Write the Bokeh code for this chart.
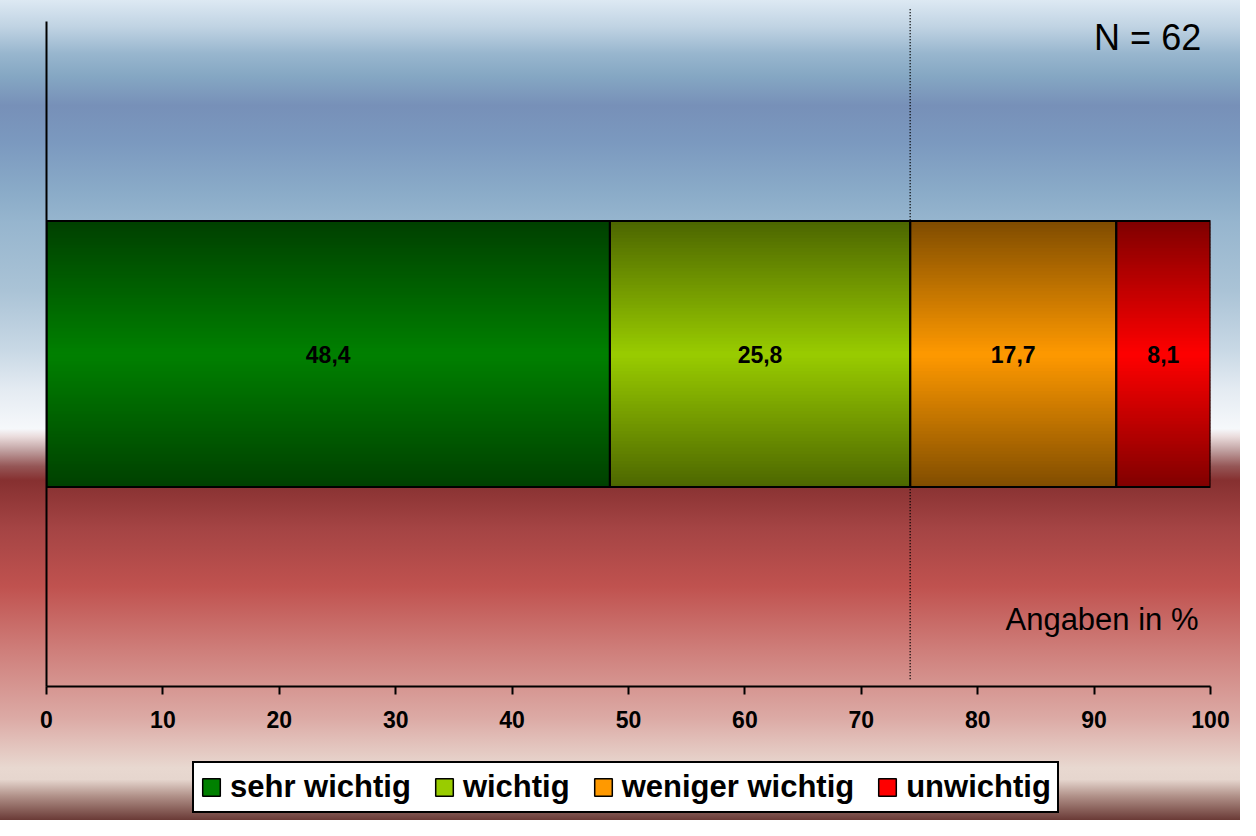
import numpy as np
from bokeh.plotting import figure
from bokeh.layouts import column
from bokeh.models import (Range1d, LinearAxis, FixedTicker, Legend,
                          LegendItem, Label, ColumnDataSource)
from bokeh.core.properties import value
from bokeh.embed import file_html
from bokeh.resources import INLINE

# ---------------- data ----------------
categories = ["sehr wichtig", "wichtig", "weniger wichtig", "unwichtig"]
values = [48.4, 25.8, 17.7, 8.1]
x_ticks = [0, 10, 20, 30, 40, 50, 60, 70, 80, 90, 100]
n_text = "N = 62"
unit_text = "Angaben in %"
marker_after = 2          # dotted reference line after the first two categories

# ---------------- style ----------------
mid_colors = ["#008000", "#99cc00", "#ff9900", "#ff0000"]
FONT = "Liberation Sans"
W, H = 1240, 820
H_MAIN = 750
H_LEG = H - H_MAIN
FL, FR, FT = 46, 30, 0
frame_h = 686
FB = H_MAIN - frame_h
BAR_Y, BAR_H = 1.0, 0.8
px_per_y = 332.5
y_top = frame_h / px_per_y

# background gradient stops (reference pixel row -> colour)
bg_stops = [(6, "#dde9f3"), (33, "#c0d3e3"), (60, "#98b6ce"), (83, "#85a7c3"),
            (113, "#7790b8"), (150, "#7b99bf"), (200, "#8aabc8"), (230, "#96b5ce"),
            (300, "#aac3d6"), (360, "#c8d8e5"), (400, "#e4ebf2"), (440, "#f6f8fb"),
            (448, "#eadcdc"), (462, "#c0a0a0"), (478, "#955656"), (492, "#863030"),
            (540, "#a44444"), (600, "#c0524f"), (667, "#cf807c"), (733, "#dcaaa5"),
            (783, "#e8d8d0"), (795, "#e6d6ce"), (812, "#b09088"), (836, "#6a3a36")]
grad = "linear-gradient(to bottom, " + ", ".join(
    "%s %.1fpx" % (c, (ry - 6) * 0.988) for ry, c in bg_stops) + ")"


def hex2rgb(h):
    h = h.lstrip("#")
    return np.array([int(h[i:i + 2], 16) for i in (0, 2, 4)], dtype=float)


def rgb2hex(c):
    c = np.clip(np.round(c), 0, 255).astype(int)
    return "#%02x%02x%02x" % tuple(c)


p = figure(width=W, height=H_MAIN, x_range=Range1d(0, 100), y_range=Range1d(0, y_top),
           output_backend="svg", toolbar_location=None,
           x_axis_type=None, y_axis_type=None,
           min_border_left=FL, min_border_right=FR, min_border_top=FT,
           min_border_bottom=FB)
p.outline_line_color = None
p.border_fill_color = None
p.background_fill_color = None

# ---- stacked bar ----
starts = np.concatenate([[0.0], np.cumsum(values)[:-1]])
ends = np.cumsum(values)

# dotted reference line
xd = ends[marker_after - 1]
p.segment(x0=[xd], y0=[0.022], x1=[xd], y1=[2.039], line_color="black",
          line_width=1.5, line_dash="1 2")

n_strips = 80
sh = BAR_H / n_strips
rows = dict(left=[], right=[], y=[], color=[])
for s, e, c in zip(starts, ends, mid_colors):
    base = hex2rgb(c)
    for k in range(n_strips):
        yc = BAR_Y - BAR_H / 2 + (k + 0.5) * sh
        t = abs(yc - BAR_Y) / (BAR_H / 2)
        rows["left"].append(s)
        rows["right"].append(e)
        rows["y"].append(yc)
        rows["color"].append(rgb2hex(base * (1 - 0.5 * t)))
p.hbar(y="y", left="left", right="right", height=sh * 1.3, fill_color="color",
       line_color=None, source=ColumnDataSource(rows))

p.hbar(y=[BAR_Y] * len(values), left=starts, right=ends, height=BAR_H,
       fill_color=None, line_color="black", line_width=2)

labels = [("%.1f" % v).replace(".", ",") for v in values]
p.text(x=(starts + ends) / 2, y=[BAR_Y] * len(values), text=labels,
       text_font=value(FONT), text_font_style="bold", text_font_size="23px",
       text_align="center", text_baseline="middle", text_color="black")

# ---- axes ----
xaxis = LinearAxis(ticker=FixedTicker(ticks=x_ticks), axis_line_width=2,
                   axis_line_color="black", major_tick_in=0, major_tick_out=8,
                   major_tick_line_width=2, minor_tick_line_color=None,
                   major_label_text_font=FONT, major_label_text_font_style="bold",
                   major_label_text_font_size="23px", major_label_standoff=16,
                   major_label_text_color="black")
p.add_layout(xaxis, "below")

yaxis = LinearAxis(ticker=FixedTicker(ticks=[]), bounds=(0, 2.0), axis_line_width=2,
                   axis_line_color="black", major_tick_line_color=None,
                   minor_tick_line_color=None, major_label_text_font_size="0px")
p.add_layout(yaxis, "left")

# ---- annotations ----
p.add_layout(Label(x=99.2, y=1.953, text=n_text, text_align="right",
                   text_baseline="middle", text_font=FONT, text_font_size="36px",
                   text_color="black"))
p.add_layout(Label(x=98.97, y=0.203, text=unit_text, text_align="right",
                   text_baseline="middle", text_font=FONT, text_font_size="31px",
                   text_color="black"))

# ---- legend (own strip below the chart) ----
q = figure(width=W, height=H_LEG, x_range=Range1d(0, 1), y_range=Range1d(0, 1),
           output_backend="svg", toolbar_location=None,
           x_axis_type=None, y_axis_type=None,
           min_border_left=0, min_border_right=0, min_border_top=0,
           min_border_bottom=0)
q.outline_line_color = None
q.border_fill_color = None
q.background_fill_color = None
items = []
for cat, c in zip(categories, mid_colors):
    r = q.quad(left=[0], right=[0], bottom=[0], top=[0], fill_color=c,
               line_color="black", line_width=1.5, visible=False)
    items.append(LegendItem(label=cat, renderers=[r]))
legend = Legend(items=items, orientation="horizontal", location=(146, 7),
                glyph_width=22, glyph_height=22, label_standoff=8, spacing=22,
                padding=6, label_text_font=FONT, label_text_font_style="bold",
                label_text_font_size="31px", label_text_color="black",
                border_line_color="black", border_line_width=2,
                border_line_alpha=1.0,
                background_fill_color="white", background_fill_alpha=1.0)
q.add_layout(legend)

layout = column(p, q, spacing=0, styles={"background": grad})

open("out.html", "w").write(file_html(layout, INLINE))
